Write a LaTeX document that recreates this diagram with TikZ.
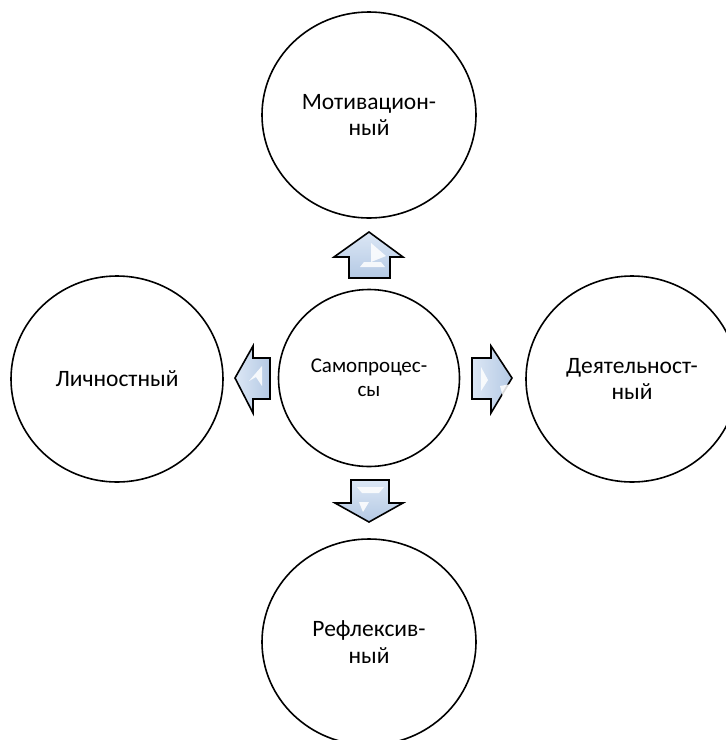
\documentclass[tikz,border=0pt]{standalone}
\usepackage{fontspec}
\setmainfont{Carlito}
\usetikzlibrary{shapes.geometric}
\definecolor{svetlo}{RGB}{220,231,245}
\definecolor{temno}{RGB}{180,201,228}
\begin{document}
\begin{tikzpicture}[x=1pt,y=-1pt,
  krug/.style={ellipse,draw,line width=1.6pt,inner sep=0pt,align=center,
    font=\fontsize{23.5}{26.5}\selectfont},
  strelka/.style={draw=black,line width=1.6pt,line join=miter},
  blik/.style={fill=white,opacity=0.85}]
\useasboundingbox (0,0) rectangle (726,740);
\node[krug,minimum width=214,minimum height=206] (M) at (369,115) {Мотивацион-\\ный};
\node[krug,minimum width=212,minimum height=206] (L) at (117,379) {Личностный};
\node[krug,minimum width=181,minimum height=177,font=\fontsize{21}{24}\selectfont] (S) at (369,378) {Самопроцес-\\сы};
\node[krug,minimum width=212,minimum height=206] (D) at (632,379) {Деятельност-\\ный};
\node[krug,minimum width=214,minimum height=206] (R) at (369,642) {Рефлексив-\\ный};
% up
\filldraw[strelka,top color=svetlo,bottom color=temno]
  (349,278) -- (349,257) -- (334,257) -- (369,232) -- (403,257) -- (390,257) -- (390,278) -- cycle;
\fill[blik] (371,243) -- (386,256) -- (371,262) -- cycle;
\fill[blik] (360,267) -- (364,262) -- (381,262) -- (385,267) -- cycle;
% down
\filldraw[strelka,top color=svetlo,bottom color=temno]
  (351,480) -- (389,480) -- (389,503) -- (403,503) -- (369,522) -- (335,503) -- (351,503) -- cycle;
\fill[blik] (357,487) -- (384,487) -- (379,493) -- (362,493) -- cycle;
\fill[blik] (359,502) -- (369,502) -- (363,512) -- cycle;
% left
\filldraw[strelka,left color=svetlo,right color=temno]
  (270,358) -- (270,399) -- (253,399) -- (253,413) -- (235,378) -- (253,346) -- (253,358) -- cycle;
\fill[blik] (262,366) -- (262,386) -- (256,377) -- (249,381) -- cycle;
% right
\filldraw[strelka,left color=svetlo,right color=temno]
  (472,358) -- (491,358) -- (491,346) -- (512,378) -- (491,413) -- (491,399) -- (472,399) -- cycle;
\fill[blik] (481,367) -- (488,380) -- (481,391) -- cycle;
\fill[blik] (500,386) -- (511,384) -- (503,397) -- cycle;
\end{tikzpicture}
\end{document}
